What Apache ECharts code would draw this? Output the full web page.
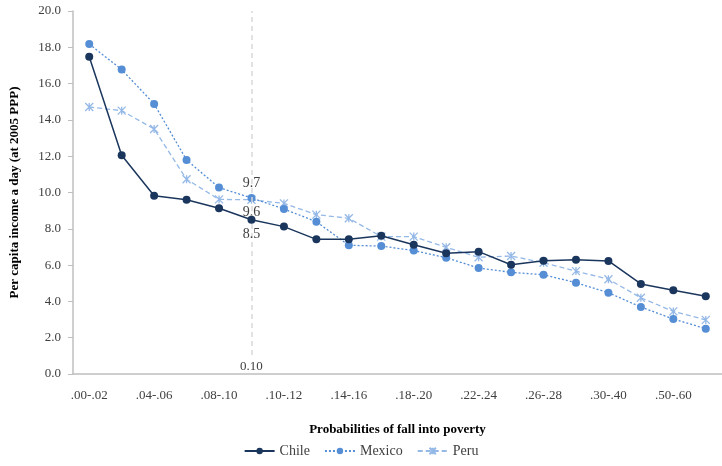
<!DOCTYPE html>
<html>
<head>
<meta charset="utf-8">
<script src="https://cdn.jsdelivr.net/npm/echarts@6/dist/echarts.min.js"></script>
<style>
html,body{margin:0;padding:0;background:#fff;}
#chart{width:722px;height:466px;}
</style>
</head>
<body>
<div id="chart"></div>
<script>
var categories = ['.00-.02','.02-.04','.04-.06','.06-.08','.08-.10','0.10','.10-.12','.12-.14','.14-.16','.16-.18','.18-.20','.20-.22','.22-.24','.24-.26','.26-.28','.28-.30','.30-.40','.40-.50','.50-.60','.60-.70'];
var chile  = [17.48,12.05,9.82,9.60,9.13,8.5,8.12,7.42,7.42,7.62,7.12,6.65,6.74,6.02,6.24,6.30,6.23,4.96,4.61,4.28];
var mexico = [18.18,16.77,14.88,11.79,10.27,9.7,9.09,8.39,7.09,7.05,6.80,6.41,5.84,5.60,5.47,5.03,4.48,3.69,3.03,2.50];
var peru   = [14.71,14.51,13.50,10.73,9.62,9.6,9.40,8.78,8.58,7.57,7.57,6.98,6.43,6.50,6.13,5.67,5.22,4.20,3.45,2.98];
var markIndex = 5;
var markText = '0.10';
var yTitle = 'Per capita income a day (at 2005 PPP)';
var xTitle = 'Probabilities of fall into poverty';

var FONT = '"Liberation Serif", "DejaVu Serif", serif';
var TXT = '#404040';
var chart = echarts.init(document.getElementById('chart'), null, {renderer:'canvas'});

function labelAt(idx, pos, offset) {
  return function(arr){
    return arr.map(function(v,i){
      if (i === idx) return {value:v, label:{show:true, position:pos, offset:offset, formatter:function(p){return p.value.toFixed(1);}, color:TXT, fontFamily:FONT, fontSize:14, distance:4}};
      return v;
    });
  };
}

var starPath = 'path://M0,0 L10,10 M10,0 L0,10 M5,0 L5,10';

chart.setOption({
  animation:false,
  textStyle:{fontFamily:FONT},
  grid:{left:66, right:0, top:11, bottom:92, containLabel:false},
  legend:{
    data:['Chile','Mexico','Peru'],
    bottom:3, left:'center',
    itemWidth:30, itemHeight:8, itemGap:14,
    textStyle:{fontFamily:FONT, fontSize:14, color:TXT}
  },
  xAxis:{
    type:'category', data:categories, boundaryGap:true,
    name:xTitle, nameLocation:'middle', nameGap:49,
    nameTextStyle:{fontFamily:FONT, fontSize:13, fontWeight:'bold', color:'#000'},
    axisLine:{lineStyle:{color:'#BFBFBF', width:1.5}},
    axisTick:{show:false},
    axisLabel:{interval:1, margin:15, fontFamily:FONT, fontSize:13, color:TXT},
    splitLine:{show:false}
  },
  yAxis:{
    type:'value', min:0, max:20, interval:2,
    name:yTitle, nameLocation:'middle', nameGap:52, nameRotate:90,
    nameTextStyle:{fontFamily:FONT, fontSize:13, fontWeight:'bold', color:'#000'},
    axisLine:{show:true, lineStyle:{color:'#BFBFBF', width:1.5}},
    axisTick:{show:true, length:5, lineStyle:{color:'#BFBFBF'}},
    axisLabel:{formatter:function(v){return v.toFixed(1);}, margin:12, fontFamily:FONT, fontSize:13, color:TXT},
    splitLine:{show:false}
  },
  series:[
    {
      name:'Chile', type:'line', data:labelAt(markIndex,'bottom',[0,0])(chile),
      symbol:'circle', symbolSize:8,
      lineStyle:{color:'#1B365D', width:1.5},
      itemStyle:{color:'#1B365D'},
      z:5,
      markLine:{
        silent:true, symbol:['none','none'],
        lineStyle:{color:'#D9D9D9', type:[5,4], width:1.5},
        label:{show:true, position:'start', formatter:markText, color:TXT, fontFamily:FONT, fontSize:13, distance:5},
        data:[[{coord:[categories[markIndex],1.05]},{coord:[categories[markIndex],20]}]]
      }
    },
    {
      name:'Mexico', type:'line', data:labelAt(markIndex,'top',[0,0])(mexico),
      symbol:'circle', symbolSize:8,
      lineStyle:{color:'#558ED5', width:1.3, type:[2,2]},
      itemStyle:{color:'#558ED5'},
      z:4
    },
    {
      name:'Peru', type:'line', data:labelAt(markIndex,'bottom',[0,-3])(peru),
      symbol:starPath, symbolSize:8,
      lineStyle:{color:'#95B9E7', width:1.3, type:[5,3]},
      itemStyle:{color:'#95B9E7', borderColor:'#95B9E7', borderWidth:1.3},
      z:3
    }
  ]
});
</script>
</body>
</html>
